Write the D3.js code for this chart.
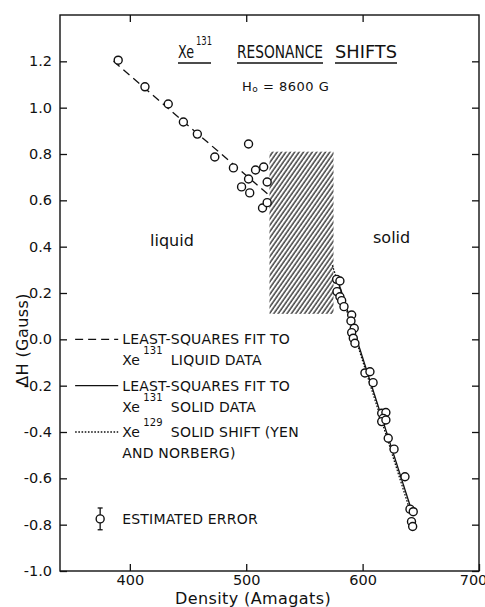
<!DOCTYPE html>
<html>
<head>
<meta charset="utf-8">
<script src="https://cdn.jsdelivr.net/npm/d3@7"></script>
<style>
  body { margin: 0; background: #fff; }
  text { font-family: "DejaVu Sans", sans-serif; fill: #111; }
</style>
</head>
<body>
<svg id="board" width="485" height="607"></svg>
<script>
// Xe131 liquid data (density in amagats, shift in gauss)
var liquidDensity = [390, 413, 433, 446, 458, 473, 489, 502, 496, 503, 502, 508, 515, 518, 514, 518];
var liquidShift = [1.205, 1.09, 1.016, 0.938, 0.886, 0.787, 0.74, 0.843, 0.658, 0.632, 0.692, 0.731, 0.744, 0.679, 0.567, 0.59];

// Xe131 solid data
var solidDensity = [577.7, 580.5, 578, 580.5, 582, 584, 590.6, 590, 592.8, 590.6, 592, 593.4, 602, 606.3, 609,
  616.4, 620, 617.7, 616.4, 620, 622, 627, 636.4, 640.7, 643.5, 642, 643];
var solidShift = [0.259, 0.252, 0.206, 0.184, 0.167, 0.141, 0.105, 0.079, 0.048, 0.029, 0.005, -0.017, -0.145, -0.14, -0.187,
  -0.319, -0.316, -0.341, -0.355, -0.348, -0.427, -0.474, -0.593, -0.733, -0.744, -0.787, -0.808];

// fit lines (end points)
var liquidFitX = [386, 519];
var liquidFitY = [1.2, 0.625];
var solidFitX = [577.7, 642];
var solidFitY = [0.27, -0.737];
var yenFitX = [574, 639.5];
var yenFitY = [0.32, -0.72];

// melting region
var meltX = [520, 575];
var meltY = [0.11, 0.81];

// axes
var xTicks = [400, 500, 600, 700];
var xTickLabels = ["400", "500", "600", "700"];
var topTicks = [400, 500, 600];
var yTicks = [-1.0, -0.8, -0.6, -0.4, -0.2, 0.0, 0.2, 0.4, 0.6, 0.8, 1.0, 1.2];
var yTickLabels = ["-1.0", "-0.8", "-0.6", "-0.4", "-0.2", "0.0", "0.2", "0.4", "0.6", "0.8", "1.0", "1.2"];

// legend rows sit on these shift values
var legendRows = [0.0, -0.2, -0.4];
var legendStyles = ["dashed", "solid", "dotted"];
var errorPoint = { x: 374.5, y: -0.775, err: 0.047 };

var svg = d3.select("#board");

var x = d3.scaleLinear().domain([340, 700]).range([60, 479]);
var y = d3.scaleLinear().domain([-1.0, 1.4]).range([571, 15]);

var dashFor = { dashed: "8,5", solid: null, dotted: "1.6,1.6" };

// hatch pattern
var defs = svg.append("defs");
defs
  .append("pattern")
  .attr("id", "hatch")
  .attr("patternUnits", "userSpaceOnUse")
  .attr("width", 3.6)
  .attr("height", 10)
  .attr("patternTransform", "rotate(35)")
  .append("line")
  .attr("x1", 1)
  .attr("y1", 0)
  .attr("x2", 1)
  .attr("y2", 10)
  .attr("stroke", "#111")
  .attr("stroke-width", 1.2);

svg
  .append("rect")
  .attr("x", x(meltX[0]))
  .attr("y", y(meltY[1]))
  .attr("width", x(meltX[1]) - x(meltX[0]))
  .attr("height", y(meltY[0]) - y(meltY[1]))
  .attr("fill", "url(#hatch)");

// frame
svg
  .append("rect")
  .attr("x", x(340))
  .attr("y", y(1.4))
  .attr("width", x(700) - x(340))
  .attr("height", y(-1.0) - y(1.4))
  .attr("fill", "none")
  .attr("stroke", "#111")
  .attr("stroke-width", 1.4);

var bottomAxis = svg
  .append("g")
  .attr("transform", "translate(0," + y(-1.0) + ")")
  .call(
    d3.axisBottom(x)
      .tickValues(xTicks)
      .tickFormat(function (d, i) { return xTickLabels[i]; })
      .tickSizeInner(-7)
      .tickSizeOuter(0)
      .tickPadding(4)
  );

var topAxis = svg
  .append("g")
  .attr("transform", "translate(0," + y(1.4) + ")")
  .call(d3.axisTop(x).tickValues(topTicks).tickFormat("").tickSizeInner(-7).tickSizeOuter(0));

var leftAxis = svg
  .append("g")
  .attr("transform", "translate(" + x(340) + ",0)")
  .call(
    d3.axisLeft(y)
      .tickValues(yTicks)
      .tickFormat(function (d, i) { return yTickLabels[i]; })
      .tickSizeInner(-7)
      .tickSizeOuter(0)
      .tickPadding(8)
  );

var rightAxis = svg
  .append("g")
  .attr("transform", "translate(" + x(700) + ",0)")
  .call(d3.axisRight(y).tickValues(yTicks).tickFormat("").tickSizeInner(-7).tickSizeOuter(0));

[bottomAxis, topAxis, leftAxis, rightAxis].forEach(function (a) {
  a.select(".domain").remove();
  a.selectAll(".tick line").attr("stroke", "#111").attr("stroke-width", 1.3);
  a.selectAll(".tick text")
    .attr("font-family", "DejaVu Sans, sans-serif")
    .attr("font-size", 14.5)
    .attr("fill", "#111");
});
// last label sits against the page edge
bottomAxis.selectAll(".tick text").filter(function (d) { return d == 700; }).attr("dx", -6);

// fit lines
var line = d3.line()
  .x(function (d) { return x(d[0]); })
  .y(function (d) { return y(d[1]); });

function fitLine(xs, ys, style) {
  svg
    .append("path")
    .attr("d", line(d3.zip(xs, ys)))
    .attr("fill", "none")
    .attr("stroke", "#111")
    .attr("stroke-width", 1.3)
    .attr("stroke-dasharray", dashFor[style]);
}

fitLine(liquidFitX, liquidFitY, "dashed");
fitLine(yenFitX, yenFitY, "dotted");
fitLine(solidFitX, solidFitY, "solid");

// data points
function points(xs, ys) {
  svg
    .append("g")
    .selectAll("circle")
    .data(d3.zip(xs, ys))
    .enter()
    .append("circle")
    .attr("cx", function (d) { return x(d[0]); })
    .attr("cy", function (d) { return y(d[1]); })
    .attr("r", 4)
    .attr("fill", "#fff")
    .attr("stroke", "#111")
    .attr("stroke-width", 1.4);
}

points(liquidDensity, liquidShift);
points(solidDensity, solidShift);

// title, word by word so each word gets its own underline
var titleWords = [
  { text: "Xe", x: 178, w: 16, size: 18, y: 58 },
  { text: "131", x: 196, w: 16, size: 13, y: 45 },
  { text: "RESONANCE", x: 237, w: 86, size: 18, y: 58 },
  { text: "SHIFTS", x: 335, w: 62, size: 18, y: 58 },
];
titleWords.forEach(function (d) {
  svg
    .append("text")
    .attr("x", d.x)
    .attr("y", d.y)
    .attr("font-size", d.size)
    .attr("textLength", d.w)
    .attr("lengthAdjust", "spacingAndGlyphs")
    .text(d.text);
});

var underlines = [[178, 211], [237, 323], [335, 397]];
svg
  .append("g")
  .selectAll("line")
  .data(underlines)
  .enter()
  .append("line")
  .attr("x1", function (d) { return d[0]; })
  .attr("x2", function (d) { return d[1]; })
  .attr("y1", 63)
  .attr("y2", 63)
  .attr("stroke", "#111")
  .attr("stroke-width", 1.3);

var field = svg.append("text").attr("x", 242).attr("y", 91).attr("font-size", 13).attr("letter-spacing", 0.5);
field.append("tspan").text("H");
field.append("tspan").attr("font-size", 9).attr("dy", 1).text("o");
field.append("tspan").attr("dy", -1).text(" =  8600  G");

svg.append("text").attr("x", 150).attr("y", 246).attr("font-size", 16).text("liquid");
svg.append("text").attr("x", 373).attr("y", 243).attr("font-size", 16).text("solid");

// legend
var legendText = [
  [["LEAST-SQUARES FIT TO"], ["Xe", "131", "LIQUID DATA"]],
  [["LEAST-SQUARES FIT TO"], ["Xe", "131", "SOLID DATA"]],
  [["Xe", "129", "SOLID SHIFT (YEN"], ["AND NORBERG)"]],
];

legendRows.forEach(function (row, i) {
  var cy = y(row);
  svg
    .append("line")
    .attr("x1", x(353))
    .attr("x2", x(390))
    .attr("y1", cy)
    .attr("y2", cy)
    .attr("stroke", "#111")
    .attr("stroke-width", 1.3)
    .attr("stroke-dasharray", dashFor[legendStyles[i]]);

  legendText[i].forEach(function (parts, j) {
    var t = svg
      .append("text")
      .attr("x", x(390) + 4)
      .attr("y", cy + 5 + j * 21)
      .attr("font-size", 14)
      .attr("letter-spacing", 0.2);
    if (parts.length == 1) {
      t.text(parts[0]);
    } else {
      t.append("tspan").text(parts[0]);
      t.append("tspan").attr("dx", 3).attr("dy", -11).attr("font-size", 10).text(parts[1]);
      t.append("tspan").attr("dx", 8).attr("dy", 11).text(parts[2]);
    }
  });
});

// estimated error marker
var ex = x(errorPoint.x);
svg
  .append("line")
  .attr("x1", ex)
  .attr("x2", ex)
  .attr("y1", y(errorPoint.y + errorPoint.err))
  .attr("y2", y(errorPoint.y - errorPoint.err))
  .attr("stroke", "#111")
  .attr("stroke-width", 1.3);
[errorPoint.y + errorPoint.err, errorPoint.y - errorPoint.err].forEach(function (v) {
  svg
    .append("line")
    .attr("x1", ex - 2.5)
    .attr("x2", ex + 2.5)
    .attr("y1", y(v))
    .attr("y2", y(v))
    .attr("stroke", "#111")
    .attr("stroke-width", 1.3);
});
points([errorPoint.x], [errorPoint.y]);
svg
  .append("text")
  .attr("x", x(390) + 4)
  .attr("y", y(errorPoint.y) + 5)
  .attr("font-size", 14)
  .attr("letter-spacing", 0.2)
  .text("ESTIMATED ERROR");

// axis titles
svg
  .append("text")
  .attr("x", 253)
  .attr("y", 604)
  .attr("text-anchor", "middle")
  .attr("font-size", 16)
  .attr("letter-spacing", 0.4)
  .text("Density  (Amagats)");

svg
  .append("text")
  .attr("transform", "translate(28,340) rotate(-90)")
  .attr("text-anchor", "middle")
  .attr("font-size", 16)
  .attr("letter-spacing", 0.4)
  .text("\u0394H  (Gauss)");
</script>
</body>
</html>
